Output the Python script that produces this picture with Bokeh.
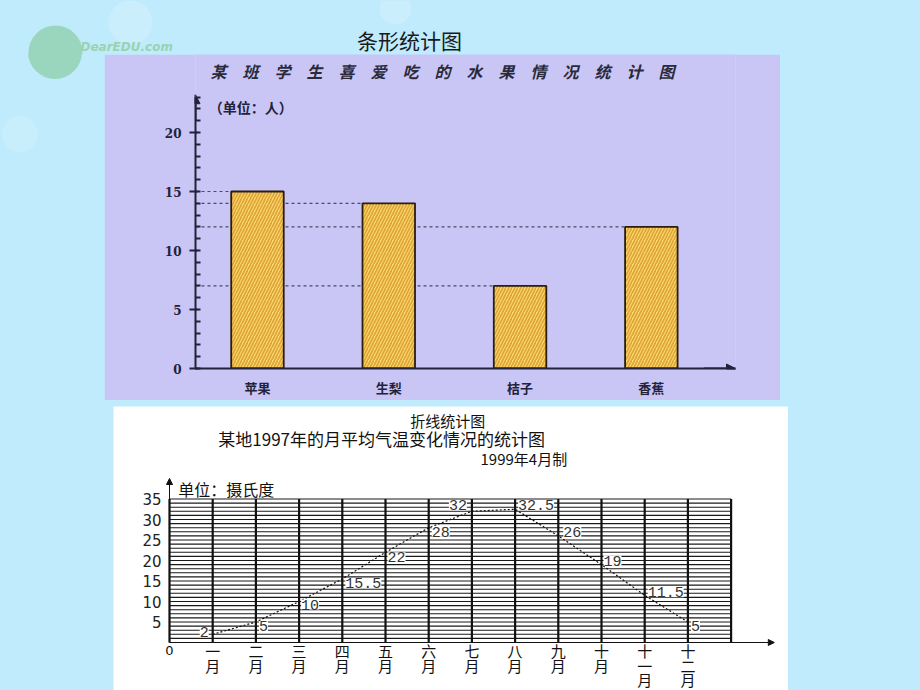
from bokeh.plotting import figure
from bokeh.layouts import column, row
from bokeh.models import (Spacer, Range1d, SingleIntervalTicker, FixedTicker, Arrow,
                          NormalHead, LabelSet, ColumnDataSource, Div)
from bokeh.embed import file_html
from bokeh.resources import INLINE
from bokeh.core.properties import value

# ---------------- data ----------------
fruits = ["苹果", "生梨", "桔子", "香蕉"]
fruit_counts = [15, 14, 7, 12]
bar_y_ticks = [0, 5, 10, 15, 20]

months = ["一月", "二月", "三月", "四月", "五月", "六月",
          "七月", "八月", "九月", "十月", "十一月", "十二月"]
temps = [2, 5, 10, 15.5, 22, 28, 32, 32.5, 26, 19, 11.5, 5]
line_y_ticks = [5, 10, 15, 20, 25, 30, 35]

# label placement (screen px) for the temperature values
label_dx = [-13, 3, 2, 3, 2, 3, -23, 3, 5, 2, 3, 3]
label_dy = [2, -4, -3, -4, -5, -4, 6, 4, 4, 4, 3, -4]

CYAN = "#BFEBFC"
PURPLE = "#C9C6F5"
DARK = "#22223a"
CJK = "Noto Sans CJK SC"


def bare(fig, bg):
    fig.grid.visible = False
    fig.outline_line_color = None
    fig.background_fill_color = bg
    fig.border_fill_color = bg


# ---------------- top strip (slide title + logo) ----------------
top = figure(width=920, height=54, x_range=Range1d(0, 920), y_range=Range1d(54, 0),
             x_axis_location=None, y_axis_location=None, min_border=0,
             output_backend="svg", toolbar_location=None)
bare(top, CYAN)
top.circle(x=[130, 395], y=[22, 8], radius=[22, 16], fill_color="white", fill_alpha=0.18,
           line_color=None)
top.circle(x=[55], y=[52], radius=27, fill_color="#7CC58A", fill_alpha=0.55, line_color=None)
top.text(x=[80], y=[46], text=["DearEDU.com"], text_font=value("DejaVu Sans"),
         text_font_style="bold italic", text_font_size="12px", text_color="#9AD3AE",
         text_baseline="middle")
top.text(x=[409], y=[39], text=["条形统计图"], text_font=value(CJK), text_font_size="21px",
         text_color="#1a1a1a", text_align="center", text_baseline="middle")

left_fill = Div(width=104, height=346, margin=0,
                text='<svg width="104" height="346" style="display:block">'
                     '<circle cx="55" cy="-2" r="27" fill="#7CC58A" fill-opacity="0.55"/>'
                     '<circle cx="20" cy="80" r="18" fill="white" fill-opacity="0.15"/></svg>',
                styles={"background-color": CYAN, "overflow": "hidden", "padding": "0"})

# ---------------- bar chart ----------------
BPX = 11.8            # px per count unit
XS, XE = 0.528, 4.641
bar = figure(width=676, height=346, x_range=Range1d(XS, XE),
             y_range=Range1d(0, 314 / BPX),
             min_border_left=91, min_border_right=45, min_border_top=0, min_border_bottom=32,
             output_backend="svg", toolbar_location=None)
bare(bar, PURPLE)

idx = list(range(1, len(fruits) + 1))
bw = 0.40
bar.segment(x0=[XS] * len(fruits), y0=fruit_counts, x1=[i - bw / 2 for i in idx], y1=fruit_counts,
            line_color="#4a4a66", line_width=1.2, line_dash="3 3")
bar.vbar(x=idx, top=fruit_counts, bottom=0, width=bw, fill_color="#FADF72",
         hatch_pattern="/", hatch_color="#E2A53A", hatch_scale=6, hatch_weight=1.8,
         line_color="#2b1d10", line_width=1.8)

bar.text(x=[XS + 0.114], y=[25.17], text=["\u3000".join("某班学生喜爱吃的水果情况统计图")],
         text_font=value(CJK), text_font_size="16px", text_font_style="bold italic",
         text_color="#2a2a3a", text_baseline="middle")
bar.text(x=[XS + 0.1], y=[22.15], text=["（单位：人）"], text_font=value(CJK),
         text_font_style="bold", text_font_size="14px", text_color=DARK,
         text_baseline="middle")

yax = bar.yaxis[0]
yax.ticker = SingleIntervalTicker(interval=5, num_minor_ticks=5)
yax.bounds = (0, 23)
yax.axis_line_width = 2
yax.axis_line_color = DARK
yax.major_tick_in = 2
yax.major_tick_out = 6
yax.major_tick_line_width = 2
yax.major_tick_line_color = DARK
yax.minor_tick_in = 5
yax.minor_tick_out = 0
yax.minor_tick_line_width = 2
yax.minor_tick_line_color = DARK
yax.major_label_text_font = "DejaVu Serif"
yax.major_label_text_font_style = "bold"
yax.major_label_text_font_size = "12px"
yax.major_label_text_color = DARK
yax.major_label_standoff = 8

xax = bar.xaxis[0]
xax.ticker = FixedTicker(ticks=idx)
xax.major_label_overrides = {i: f for i, f in zip(idx, fruits)}
xax.axis_line_width = 2
xax.axis_line_color = DARK
xax.major_tick_in = 0
xax.major_tick_out = 0
xax.minor_tick_out = 0
xax.major_label_text_font = CJK
xax.major_label_text_font_style = "bold"
xax.major_label_text_font_size = "13px"
xax.major_label_text_color = DARK
xax.major_label_standoff = 9

bar.add_layout(Arrow(end=NormalHead(size=9, fill_color=DARK, line_color=DARK),
                     x_start=XS, y_start=21, x_end=XS, y_end=23.2,
                     line_color=DARK, line_width=2))
bar.add_layout(Arrow(end=NormalHead(size=9, fill_color=DARK, line_color=DARK),
                     x_start=4.4, y_start=0, x_end=XE, y_end=0,
                     line_color=DARK, line_width=2))

# ---------------- line chart ----------------
n = len(months)
LPX = 4.1             # px per degree
MPX = 43.2            # px per month
line = figure(width=675, height=284, x_range=Range1d(-56 / MPX, 619 / MPX),
              y_range=Range1d(-48 / LPX, 236 / LPX),
              x_axis_location=None, y_axis_location=None, min_border=0,
              output_backend="svg", toolbar_location=None)
bare(line, "white")

top_val = line_y_ticks[-1]
hgrid_y = list(range(0, top_val + 1))
vgrid_x = list(range(0, n + 2))
line.segment(x0=[0] * len(hgrid_y), y0=hgrid_y, x1=[n + 1] * len(hgrid_y), y1=hgrid_y,
             line_color="#1a1a1a", line_width=1.1)
line.segment(x0=vgrid_x, y0=[0] * len(vgrid_x), x1=vgrid_x, y1=[top_val] * len(vgrid_x),
             line_color="#111", line_width=2.2)

mx = list(range(1, n + 1))
line.line(x=mx, y=temps, line_color="#111", line_width=1.2, line_dash="2 2")

src = ColumnDataSource(dict(x=mx, y=temps, text=[f"{t:g}" for t in temps],
                            dx=label_dx, dy=label_dy))
line.add_layout(LabelSet(x="x", y="y", text="text", x_offset="dx", y_offset="dy", source=src,
                         text_font=value("Liberation Mono"), text_font_size="15px",
                         text_color="#333", text_baseline="middle",
                         background_fill_color="white"))

# y tick labels (left of the grid)
line.text(x=[-8 / MPX] * len(line_y_ticks), y=line_y_ticks, text=[str(t) for t in line_y_ticks],
          text_font=value("DejaVu Sans"), text_font_size="15px", text_color="#222",
          text_align="right", text_baseline="middle")

# titles (inside the white panel)
line.text(x=[6.44], y=[54.1], text=["折线统计图"], text_font=value(CJK),
          text_font_size="15px", text_color="#111", text_align="center", text_baseline="middle")
line.text(x=[1.13], y=[49.8], text=["某地1997年的月平均气温变化情况的统计图"],
          text_font=value(CJK), text_font_size="17px", text_color="#111", text_baseline="middle")
line.text(x=[7.2], y=[44.9], text=["1999年4月制"], text_font=value(CJK),
          text_font_size="15px", text_color="#111", text_baseline="middle")
line.text(x=[0.2], y=[37.4], text=["单位：摄氏度"], text_font=value(CJK),
          text_font_size="16px", text_color="#111", text_baseline="middle")

# month labels: stacked characters under each month, "0" at the origin
lab_x, lab_y, lab_t = [], [], []
for i, m in zip(mx, months):
    for k, ch in enumerate(m):
        lab_x.append(i)
        lab_y.append(-(8 + 14.5 * k) / LPX)
        lab_t.append(ch)
line.text(x=lab_x, y=lab_y, text=lab_t, text_font=value(CJK), text_font_size="15px",
          text_color="#111", text_align="center", text_baseline="middle")
line.text(x=[0], y=[-8 / LPX], text=["0"], text_font=value("DejaVu Sans"),
          text_font_size="13px", text_color="#111", text_align="center", text_baseline="middle")

line.add_layout(Arrow(end=NormalHead(size=6, fill_color="#111", line_color="#111"),
                      x_start=0, y_start=0, x_end=n + 2, y_end=0,
                      line_color="#111", line_width=1))
line.add_layout(Arrow(end=NormalHead(size=6, fill_color="#111", line_color="#111"),
                      x_start=0, y_start=top_val, x_end=0, y_end=40,
                      line_color="#111", line_width=1))

root = column(top,
              row(left_fill, bar),
              Spacer(width=920, height=6),
              row(Spacer(width=113, height=284), line),
              width=920, height=690, styles={"background-color": CYAN})

open("out.html", "w").write(file_html(root, INLINE))
